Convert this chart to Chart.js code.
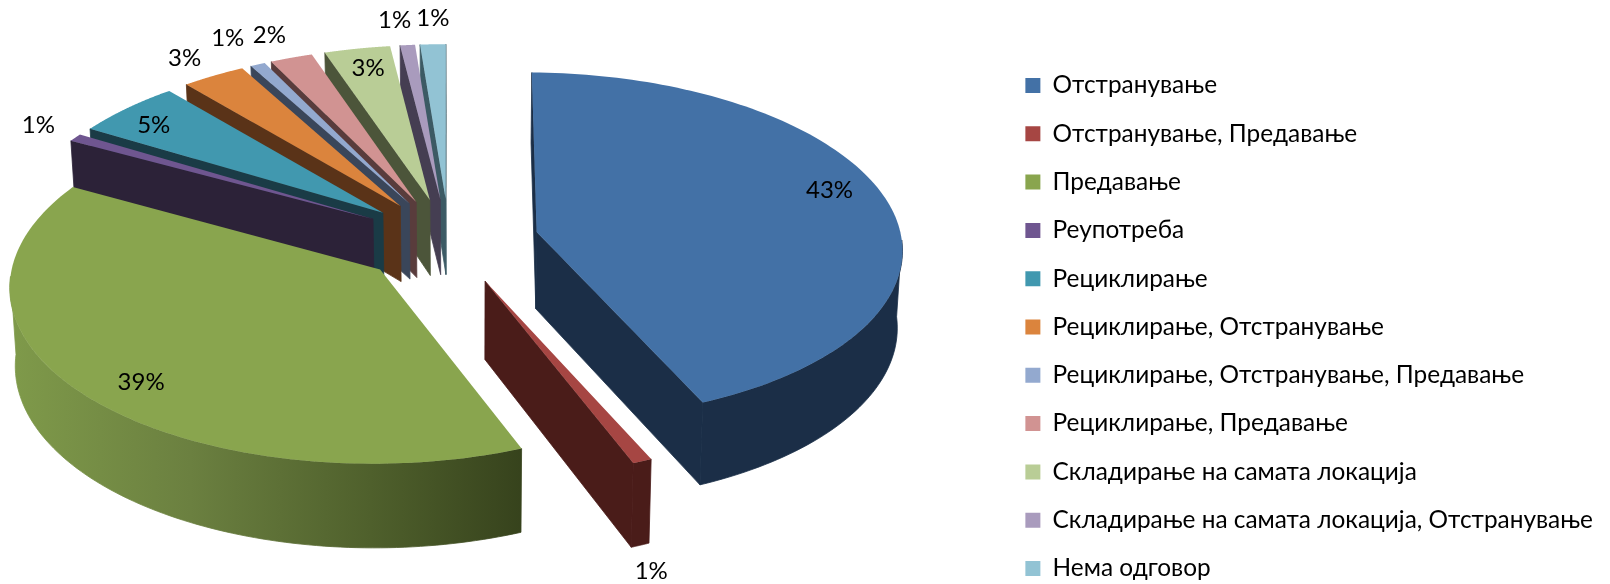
<!DOCTYPE html>
<html>
<head>
<meta charset="utf-8">
<style>
  html, body { margin: 0; padding: 0; background: #fff; }
  #wrap { width: 1610px; height: 584px; }
</style>
<script src="https://cdn.jsdelivr.net/npm/chart.js@4/dist/chart.umd.min.js"></script>
</head>
<body>
<div id="wrap"><canvas id="pita" width="1610" height="584"></canvas></div>
<script>
var categories = [
  "Отстранување",
  "Отстранување, Предавање",
  "Предавање",
  "Реупотреба",
  "Рециклирање",
  "Рециклирање, Отстранување",
  "Рециклирање, Отстранување, Предавање",
  "Рециклирање, Предавање",
  "Складирање на самата локација",
  "Складирање на самата локација, Отстранување",
  "Нема одговор"
];
// procentite na slikata se zaokruzeni, ovie se procitani od goleminata na parchinjata
var values = [43.0, 0.8, 39.4, 0.7, 5.1, 3.0, 0.7, 2.0, 3.1, 0.7, 1.2];
var colors = ["#4371a6", "#a64643", "#89a54e", "#6f5690", "#4198af", "#db843d", "#93a9cf", "#d19392", "#b9cd96", "#a99bbd", "#92c3d4"];
var wallColors = ["#1b2e47", "#4a1c19", "#36421c", "#2c2238", "#1a3b46", "#5a3318", "#3a465a", "#593c3c", "#4c553a", "#453e52", "#3c5a64"];
// pomestuvanje na procentite od sredinata na lakot
var labelShift = [[-58, -12], [9, 110], [55, -14], [-37, -12], [27, 17], [-29, -18], [-30, -26], [-22, -22], [11, 20], [-13, -25], [0, -26]];

var tilt = { x: 449, y: 241, k: 0.475, px: 0.00016, py: 0.00022, depth: 77, shrink: 0.988, vanishX: 470, sag: 5 };

function project(u, v, low) {
  var x = tilt.x + u / (1 - tilt.px * v);
  var s = 1 / (1 - tilt.py * v);
  var y = tilt.y + tilt.k * v * s + tilt.sag * (u / 400) * (u / 400);
  if (low) {
    x = tilt.vanishX + (x - tilt.vanishX) * tilt.shrink;
    y = y + tilt.depth * (1 + tilt.py * v);
  }
  return { x: x, y: y };
}

function fillPoly(ctx, pts, fill, seam) {
  ctx.beginPath();
  pts.forEach(function (p, i) {
    if (i === 0) ctx.moveTo(p.x, p.y); else ctx.lineTo(p.x, p.y);
  });
  ctx.closePath();
  ctx.fillStyle = fill;
  ctx.fill();
  if (seam) {
    ctx.strokeStyle = fill;
    ctx.lineWidth = 0.8;
    ctx.stroke();
  }
}

function area(pts) {
  var a = 0;
  for (var i = 0; i < pts.length; i++) {
    var p = pts[i], q = pts[(i + 1) % pts.length];
    a += p.x * q.y - q.x * p.y;
  }
  return a / 2;
}

var pie3d = {
  id: "pie3d",
  afterLayout: function (chart) {
    // legendata vo originalot e malku ponadolu
    var lg = chart.legend;
    lg.left -= 7; lg.right -= 7;
    lg.top += 35; lg.bottom += 35;
  },
  beforeDatasetsDraw: function (chart) {
    var ctx = chart.ctx;
    var arcs = chart.getDatasetMeta(0).data.map(function (arc, i) { return { arc: arc, i: i }; });
    arcs.sort(function (a, b) {
      return Math.sin((a.arc.startAngle + a.arc.endAngle) / 2) - Math.sin((b.arc.startAngle + b.arc.endAngle) / 2);
    });

    arcs.forEach(function (o) {
      var arc = o.arc, i = o.i;
      var a0 = arc.startAngle, a1 = arc.endAngle, mid = (a0 + a1) / 2;
      var R = arc.outerRadius, off = arc.options.offset;
      var ou = Math.cos(mid) * off, ov = Math.sin(mid) * off;
      var rim = function (a, low) { return project(ou + Math.cos(a) * R, ov + Math.sin(a) * R, low); };
      var wall = wallColors[i];
      if (i === 2) {
        wall = ctx.createLinearGradient(10, 0, 525, 0);
        wall.addColorStop(0, "#7f9a4a");
        wall.addColorStop(0.35, "#6b8040");
        wall.addColorStop(0.7, "#4f602c");
        wall.addColorStop(1, "#36421c");
      }

      // radijalni yidovi
      var startWall = [project(ou, ov), rim(a0), rim(a0, true), project(ou, ov, true)];
      var endWall = [project(ou, ov), rim(a1), rim(a1, true), project(ou, ov, true)];
      if (area(startWall) < 0) fillPoly(ctx, startWall, wall, true);
      if (area(endWall) > 0) fillPoly(ctx, endWall, wall, true);

      // nadvoresen yid, samo prednata strana
      var top = [], bottom = [];
      var n = 120;
      for (var s = 0; s <= n; s++) {
        var a = a0 + (a1 - a0) * s / n;
        if (Math.sin(a) > -0.005) {
          top.push(rim(a));
          bottom.unshift(rim(a, true));
        }
      }
      if (top.length > 1) fillPoly(ctx, top.concat(bottom), wall, true);

      // gornja povrshina
      var face = [project(ou, ov)];
      for (var t = 0; t <= n; t++) face.push(rim(a0 + (a1 - a0) * t / n));
      fillPoly(ctx, face, colors[i]);
    });

    // procenti
    ctx.fillStyle = "#000";
    ctx.font = "24px Lato, 'Open Sans', sans-serif";
    ctx.textAlign = "center";
    ctx.textBaseline = "middle";
    chart.getDatasetMeta(0).data.forEach(function (arc, i) {
      var mid = (arc.startAngle + arc.endAngle) / 2;
      var r = arc.outerRadius + arc.options.offset;
      var p = project(Math.cos(mid) * r, Math.sin(mid) * r);
      ctx.fillText(Math.round(values[i]) + "%", p.x + labelShift[i][0], p.y + labelShift[i][1]);
    });
    return false;
  }
};

new Chart(document.getElementById("pita").getContext("2d"), {
  type: "pie",
  data: {
    labels: categories,
    datasets: [{
      data: values,
      backgroundColor: colors,
      borderWidth: 0,
      offset: 90,
      radius: 366
    }]
  },
  options: {
    responsive: false,
    animation: false,
    plugins: {
      tooltip: { enabled: false },
      legend: {
        position: "right",
        labels: {
          color: "#000",
          boxWidth: 15,
          boxHeight: 15,
          padding: 23.9,
          font: { family: "Lato, 'Open Sans', sans-serif", size: 24.4 }
        }
      }
    }
  },
  plugins: [pie3d]
});
</script>
</body>
</html>
